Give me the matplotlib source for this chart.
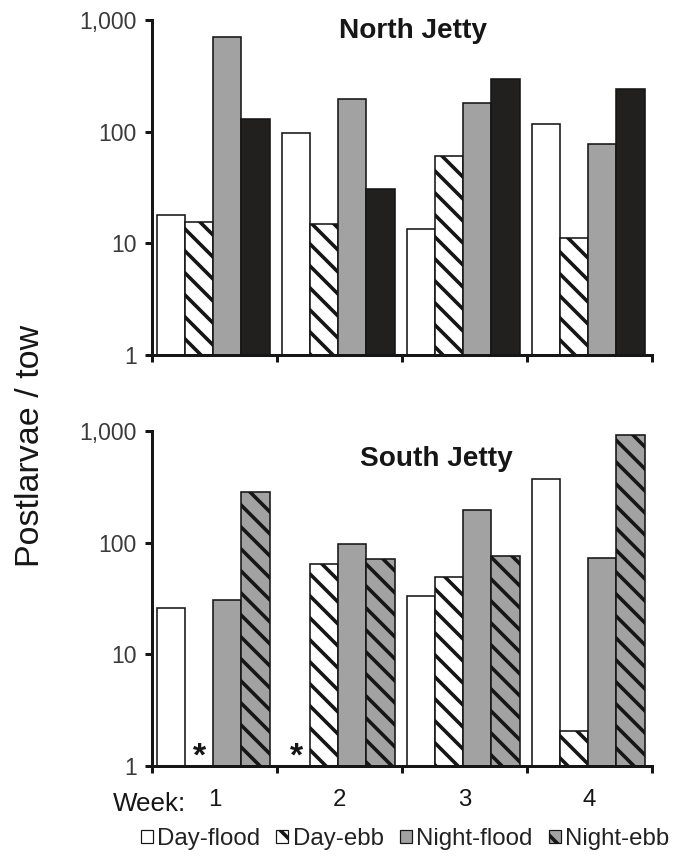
import numpy as np
import matplotlib
matplotlib.use("Agg")
import matplotlib.pyplot as plt
import matplotlib.transforms as mtransforms
from matplotlib.patches import Patch
from matplotlib.ticker import FixedLocator, NullLocator, FixedFormatter

weeks = ["1", "2", "3", "4"]
series = ["Day-flood", "Day-ebb", "Night-flood", "Night-ebb"]
north_day_flood = [18, 97, 13.4, 116]
north_day_ebb = [15.5, 14.9, 60, 11.1]
north_night_flood = [700, 196, 180, 77]
north_night_ebb = [130, 30.6, 296, 240]
south_day_flood = [26, np.nan, 33, 370]
south_day_ebb = [np.nan, 65, 49.6, 2.07]
south_night_flood = [30.6, 98, 195, 73]
south_night_ebb = [282, 72, 76, 920]
missing_mark = "*"
yticks = [1, 10, 100, 1000]
yticklabels = ["1", "10", "100", "1,000"]

DPI = 66
PT = 72.0 / DPI  # points per pixel
W, H = 680, 858

plt.rcParams["font.family"] = ["Liberation Sans", "DejaVu Sans"]
plt.rcParams["hatch.linewidth"] = 3.6 * PT

fig = plt.figure(figsize=(W / DPI, H / DPI), dpi=DPI)

grey = "#a2a2a2"
ink = "#161616"
styles_north = [
    dict(facecolor="white", hatch=None),
    dict(facecolor="white", hatch="\\"),
    dict(facecolor=grey, hatch=None),
    dict(facecolor="#221f1f", hatch=None),
]
styles_south = [
    dict(facecolor="white", hatch=None),
    dict(facecolor="white", hatch="\\"),
    dict(facecolor=grey, hatch=None),
    dict(facecolor=grey, hatch="\\"),
]

def make_axes(top_px, bottom_px):
    ax = fig.add_axes([152 / W, 1 - bottom_px / H, 500 / W, (bottom_px - top_px) / H])
    ax.set_yscale("log")
    ax.set_ylim(1, 1000)
    ax.set_xlim(-0.5, 3.5)
    for s in ["top", "right"]:
        ax.spines[s].set_visible(False)
    for s in ["left", "bottom"]:
        ax.spines[s].set_linewidth(3 * PT)
        ax.spines[s].set_color(ink)
    ax.yaxis.set_major_locator(FixedLocator(yticks))
    ax.yaxis.set_major_formatter(FixedFormatter(yticklabels))
    ax.yaxis.set_minor_locator(NullLocator())
    ax.xaxis.set_major_locator(FixedLocator(np.arange(-0.5, 4.0, 1.0)))
    ax.xaxis.set_minor_locator(NullLocator())
    ax.set_xticklabels([])
    ax.tick_params(axis="both", which="major", direction="out", length=7 * PT,
                   width=3 * PT, color=ink)
    ax.tick_params(axis="y", labelsize=23 * PT, labelcolor="#3a3a3a", pad=8 * PT)
    return ax

width = 0.225

def draw(ax, data, styles):
    x = np.arange(len(weeks))
    for j, (vals, st) in enumerate(zip(data, styles)):
        vals = np.asarray(vals, dtype=float)
        off = (j - 1.5) * width - 0.01
        ax.bar(x + off, vals - 1, bottom=1, width=width, facecolor=st["facecolor"],
               edgecolor=ink, linewidth=1.6 * PT, hatch=st["hatch"], zorder=2)

ax1 = make_axes(20, 355)
draw(ax1, [north_day_flood, north_day_ebb, north_night_flood, north_night_ebb], styles_north)
fig.text(413 / W, 1 - 38 / H, "North Jetty", ha="center", va="baseline",
         fontsize=28 * PT, fontweight="bold", color=ink)

ax2 = make_axes(431, 766)
south = [south_day_flood, south_day_ebb, south_night_flood, south_night_ebb]
draw(ax2, south, styles_south)
fig.text(436 / W, 1 - 466 / H, "South Jetty", ha="center", va="baseline",
         fontsize=28 * PT, fontweight="bold", color=ink)
mark_tr = mtransforms.offset_copy(ax2.transData, fig=fig, x=0, y=-7 * PT, units="points")
for j, vals in enumerate(south):
    for i, v in enumerate(vals):
        if np.isnan(v):
            ax2.text(i + (j - 1.5) * width - 0.01, 1.0, missing_mark, transform=mark_tr,
                     ha="center", va="bottom", fontsize=34 * PT, fontweight="bold", color=ink)

num_tr = mtransforms.blended_transform_factory(ax2.transData, fig.transFigure)
for i, w in enumerate(weeks):
    ax2.text(i, 1 - 806 / H, w, transform=num_tr,
             ha="center", va="baseline", fontsize=24 * PT, color=ink)
fig.text(113 / W, 1 - 811 / H, "Week:", ha="left", va="baseline", fontsize=26 * PT, color=ink)

fig.text(31 / W, 1 - 446 / H, "Postlarvae / tow", rotation=90, ha="center", va="center",
         fontsize=34 * PT, color=ink)

handles = [Patch(facecolor=st["facecolor"], edgecolor=ink, hatch=st["hatch"],
                 linewidth=1.2 * PT) for st in styles_south]
fig.legend(handles, series, loc="center", bbox_to_anchor=(405 / W, 1 - 839 / H), ncol=4,
           frameon=False, handlelength=0.5, handleheight=0.5,
           handletextpad=0.18, columnspacing=0.68, borderpad=0, labelcolor="#222222",
           prop={"family": ["Liberation Sans"], "size": 24 * PT})

fig.savefig("out.png", dpi=DPI)
